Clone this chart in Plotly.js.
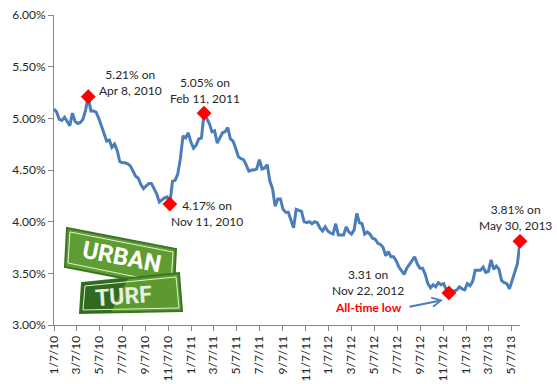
<!DOCTYPE html>
<html>
<head>
<meta charset="utf-8">
<script src="https://cdn.plot.ly/plotly-3.0.1.min.js"></script>
<style>html,body{margin:0;padding:0;background:#fff;}#chart{width:557px;height:384px;}</style>
</head>
<body>
<div id="chart"></div>
<script>
// Weekly 30-year fixed mortgage rate (%), Thursdays starting 2010-01-07
const startDate = '2010-01-07';
const rates2010 = [5.09,5.06,4.99,4.98, 5.01,4.97,4.93,5.05, 4.97,4.95,4.96,4.99, 5.08,5.21,5.07,5.07,5.06,
  5.00,4.93,4.84,4.78, 4.79,4.72,4.75,4.69, 4.58,4.57,4.57,4.56,4.54, 4.49,4.44,4.42,4.36,
  4.32,4.35,4.37,4.37,4.32, 4.27,4.19,4.21,4.23, 4.24,4.17,4.39,4.40, 4.46,4.61,4.83,4.81,4.86];
const rates2011 = [4.77,4.71,4.74,4.80, 4.81,5.05,5.00,4.95, 4.87,4.88,4.76,4.81,4.86, 4.87,4.91,4.80,4.78,
  4.71,4.63,4.61,4.60, 4.55,4.49,4.50,4.50,4.51, 4.60,4.51,4.52,4.55, 4.39,4.32,4.15,4.22,
  4.22,4.12,4.09,4.09,4.01, 3.94,4.12,4.11,4.10, 4.00,3.99,4.00,3.98, 4.00,3.99,3.94,3.91,3.95];
const rates2012 = [3.91,3.89,3.88,3.98, 3.87,3.87,3.87,3.95, 3.90,3.88,3.92,4.08,3.99, 3.98,3.88,3.90,3.88,
  3.84,3.83,3.79,3.78,3.75, 3.67,3.71,3.66,3.66, 3.62,3.56,3.53,3.49, 3.55,3.59,3.62,3.66,3.59,
  3.55,3.55,3.49,3.40, 3.36,3.39,3.37,3.41, 3.39,3.40,3.34,3.31,3.33, 3.33,3.34,3.37,3.35];
const rates2013 = [3.34,3.40,3.38,3.42,3.53, 3.53,3.53,3.56,3.51, 3.52,3.63,3.54,3.57, 3.54,3.43,3.41,3.40,
  3.35,3.42,3.51,3.59,3.81];

const tickLabels = ['1/7/10','3/7/10','5/7/10','7/7/10','9/7/10','11/7/10','1/7/11','3/7/11','5/7/11',
  '7/7/11','9/7/11','11/7/11','1/7/12','3/7/12','5/7/12','7/7/12','9/7/12','11/7/12','1/7/13','3/7/13','5/7/13'];

// highlighted weeks (week index from start) and their labels
const highlightWeeks = [13, 44, 57, 150, 177];
const highlightLabels = ['5.21% on<br>Apr 8, 2010','4.17% on<br>Nov 11, 2010','5.05% on<br>Feb 11, 2011',
  '3.31 on<br>Nov 22, 2012','3.81% on<br>May 30, 2013'];
const lowNote = 'All-time low';
const logoWords = ['URBAN', 'TURF'];

const rates = [].concat(rates2010, rates2011, rates2012, rates2013);
const s = startDate.split('-').map(Number);
const dates = rates.map((_, i) => new Date(Date.UTC(s[0], s[1]-1, s[2] + 7*i)).toISOString().slice(0,10));
const tickVals = tickLabels.map(t => { const p = t.split('/'); return '20' + p[2] + '-' + String(p[0]).padStart(2,'0') + '-' + String(p[1]).padStart(2,'0'); });

// pixel -> paper helpers (plot area 54..520 x 15..325)
const PL = 54, PR = 520, PT = 15, PB = 325;
const px = x => (x - PL) / (PR - PL);
const py = y => (PB - y) / (PB - PT);
const path = pts => 'M' + pts.map(p => px(p[0]).toFixed(5) + ',' + py(p[1]).toFixed(5)).join(' L') + ' Z';

const FONT = 'Lato, "Open Sans", sans-serif';
const LOGOFONT = 'Roboto, "Liberation Sans", sans-serif';
const TXT = '#262626';

const traces = [
  { x: dates, y: rates, type: 'scatter', mode: 'lines', line: {color: '#4a7ebb', width: 3}, hoverinfo: 'skip' },
  { x: highlightWeeks.map(i => dates[i]), y: highlightWeeks.map(i => rates[i]), type: 'scatter', mode: 'markers',
    marker: {symbol: 'diamond', size: 11, color: '#ff0000', line: {color: '#e00000', width: 0.5}}, hoverinfo: 'skip', cliponaxis: false }
];

const labelPos = [[130, 82], [207, 214], [205, 90], [368, 282], [515, 217]];
const annotations = highlightLabels.map((t, k) => ({
  xref: 'paper', yref: 'paper', x: px(labelPos[k][0]), y: py(labelPos[k][1]), xanchor: 'center', yanchor: 'middle',
  text: t, showarrow: false, font: {family: FONT, size: 12, color: TXT}
}));
annotations.push({ xref: 'paper', yref: 'paper', x: px(368), y: py(307), xanchor: 'center', yanchor: 'middle',
  text: '<b>' + lowNote + '</b>', showarrow: false, font: {family: FONT, size: 12, color: '#ff0000'} });
// arrow pointing to low
annotations.push({ xref: 'paper', yref: 'paper', x: px(443), y: py(300), ax: -35, ay: 7, text: '', showarrow: true,
  arrowhead: 5, arrowsize: 0.9, arrowwidth: 2, arrowcolor: '#4a7ebb' });
// logo text
annotations.push({ xref: 'paper', yref: 'paper', x: px(122), y: py(257), xanchor: 'center', yanchor: 'middle',
  text: '<b>' + logoWords[0] + '</b>', textangle: 11, showarrow: false,
  font: {family: LOGOFONT, size: 24, color: '#ffffff'} });
annotations.push({ xref: 'paper', yref: 'paper', x: px(123), y: py(296), xanchor: 'center', yanchor: 'middle',
  text: '<b>' + logoWords[1] + '</b>', textangle: -4, showarrow: false,
  font: {family: LOGOFONT, size: 23, color: '#e6efe0'} });

const shapes = [
  // upper sign
  { type: 'path', xref: 'paper', yref: 'paper', path: path([[67,228],[176,249],[174,288],[65,267]]),
    fillcolor: '#5f9d32', line: {color: '#3a7522', width: 2} },
  { type: 'path', xref: 'paper', yref: 'paper', path: path([[70,232],[173,252],[171,284],[68,263]]),
    fillcolor: 'rgba(0,0,0,0)', line: {color: '#e4eed8', width: 1} },
  // lower sign
  { type: 'path', xref: 'paper', yref: 'paper', path: path([[82,283],[179,273],[182,311],[80,313]]),
    fillcolor: '#5c9a30', line: {color: '#3a7522', width: 2} },
  { type: 'path', xref: 'paper', yref: 'paper', path: path([[82,283],[128,278.3],[111,312.7],[80,313]]),
    fillcolor: '#2f6a1f', line: {width: 0} },
  { type: 'path', xref: 'paper', yref: 'paper', path: path([[85,286],[176,277],[179,308],[83,310]]),
    fillcolor: 'rgba(0,0,0,0)', line: {color: '#e4eed8', width: 1} }
];

const layout = {
  width: 557, height: 384,
  margin: {l: PL, r: 557 - PR, t: PT, b: 384 - PB, pad: 0},
  paper_bgcolor: '#ffffff', plot_bgcolor: '#ffffff',
  showlegend: false,
  font: {family: FONT, size: 12, color: TXT},
  xaxis: {
    type: 'date', range: [startDate, dates[dates.length - 1]],
    tickmode: 'array', tickvals: tickVals, ticktext: tickLabels, tickangle: -90,
    showgrid: false, zeroline: false, showline: true, linecolor: '#868686', linewidth: 1,
    ticks: 'outside', ticklen: 5, tickcolor: '#868686', tickfont: {family: FONT, size: 12, color: TXT}
  },
  yaxis: {
    range: [3, 6], dtick: 0.5, tick0: 3, tickformat: '.2f', ticksuffix: '%',
    showgrid: false, zeroline: false, showline: true, linecolor: '#868686', linewidth: 1,
    ticks: 'outside', ticklen: 5, tickcolor: '#868686', tickfont: {family: FONT, size: 12, color: TXT}
  },
  annotations: annotations,
  shapes: shapes
};

Plotly.newPlot('chart', traces, layout, {staticPlot: true, displayModeBar: false});
</script>
</body>
</html>
